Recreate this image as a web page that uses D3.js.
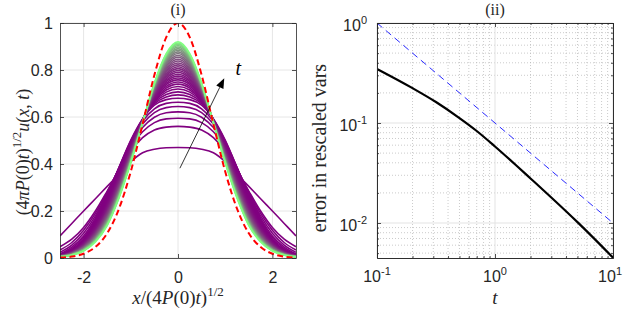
<!DOCTYPE html>
<html>
<head>
<meta charset="utf-8">
<script src="https://cdn.jsdelivr.net/npm/d3@7"></script>
<style>
  body { margin: 0; background: #fff; }
  text { fill: #262626; }
</style>
</head>
<body>
<div id="chart"></div>
<script>
// ---- data ----
// panel (i): half profiles, sampled at xi = 0 .. 2.5 (curves are symmetric)
var xiHalf = [0, 0.25, 0.5, 0.75, 1, 1.25, 1.5, 1.75, 2, 2.25, 2.5];

var profiles = [
  [0.470, 0.469, 0.463, 0.448, 0.410, 0.357, 0.305, 0.252, 0.200, 0.147, 0.094],
  [0.560, 0.557, 0.545, 0.512, 0.455, 0.375, 0.285, 0.200, 0.130, 0.080, 0.048],
  [0.595, 0.592, 0.576, 0.537, 0.470, 0.380, 0.280, 0.190, 0.118, 0.066, 0.034],
  [0.622, 0.618, 0.599, 0.555, 0.481, 0.382, 0.275, 0.179, 0.105, 0.055, 0.024],
  [0.645, 0.640, 0.619, 0.570, 0.490, 0.384, 0.270, 0.170, 0.094, 0.046, 0.018],
  [0.663, 0.658, 0.635, 0.582, 0.497, 0.385, 0.266, 0.162, 0.086, 0.040, 0.015],
  [0.680, 0.674, 0.650, 0.592, 0.502, 0.385, 0.262, 0.155, 0.079, 0.034, 0.012],
  [0.694, 0.685, 0.656, 0.591, 0.496, 0.378, 0.255, 0.150, 0.076, 0.033, 0.012],
  [0.707, 0.696, 0.661, 0.590, 0.491, 0.370, 0.248, 0.145, 0.074, 0.032, 0.011],
  [0.719, 0.706, 0.665, 0.589, 0.486, 0.364, 0.242, 0.141, 0.071, 0.030, 0.011],
  [0.730, 0.715, 0.670, 0.589, 0.482, 0.358, 0.236, 0.137, 0.069, 0.029, 0.011],
  [0.740, 0.723, 0.674, 0.588, 0.478, 0.353, 0.231, 0.133, 0.067, 0.029, 0.010],
  [0.749, 0.730, 0.677, 0.587, 0.474, 0.348, 0.226, 0.130, 0.065, 0.028, 0.010],
  [0.758, 0.738, 0.681, 0.587, 0.471, 0.343, 0.222, 0.127, 0.063, 0.027, 0.010],
  [0.766, 0.744, 0.684, 0.586, 0.467, 0.339, 0.218, 0.124, 0.062, 0.026, 0.010],
  [0.774, 0.751, 0.687, 0.585, 0.464, 0.334, 0.213, 0.121, 0.060, 0.025, 0.009],
  [0.782, 0.757, 0.690, 0.585, 0.461, 0.330, 0.209, 0.118, 0.058, 0.025, 0.009],
  [0.790, 0.764, 0.694, 0.584, 0.458, 0.326, 0.205, 0.115, 0.057, 0.024, 0.009],
  [0.798, 0.770, 0.697, 0.584, 0.454, 0.321, 0.201, 0.112, 0.055, 0.023, 0.009],
  [0.806, 0.777, 0.700, 0.583, 0.451, 0.317, 0.197, 0.109, 0.053, 0.022, 0.008],
  [0.814, 0.783, 0.703, 0.583, 0.448, 0.313, 0.193, 0.107, 0.052, 0.022, 0.008],
  [0.822, 0.790, 0.706, 0.582, 0.445, 0.308, 0.189, 0.104, 0.050, 0.021, 0.008],
  [0.830, 0.797, 0.709, 0.581, 0.441, 0.304, 0.185, 0.101, 0.048, 0.020, 0.008],
  [0.838, 0.803, 0.713, 0.581, 0.438, 0.300, 0.180, 0.098, 0.047, 0.020, 0.007],
  [0.846, 0.810, 0.716, 0.580, 0.435, 0.295, 0.176, 0.095, 0.045, 0.019, 0.007],
  [0.854, 0.816, 0.719, 0.580, 0.432, 0.291, 0.172, 0.092, 0.044, 0.018, 0.007],
  [0.862, 0.823, 0.722, 0.579, 0.429, 0.287, 0.168, 0.089, 0.042, 0.017, 0.007],
  [0.870, 0.829, 0.725, 0.579, 0.425, 0.282, 0.164, 0.086, 0.040, 0.017, 0.006],
  [0.877, 0.835, 0.728, 0.578, 0.422, 0.278, 0.160, 0.084, 0.039, 0.016, 0.006],
  [0.884, 0.841, 0.731, 0.578, 0.420, 0.275, 0.157, 0.081, 0.037, 0.015, 0.006],
  [0.891, 0.846, 0.734, 0.577, 0.417, 0.271, 0.153, 0.079, 0.036, 0.015, 0.006],
  [0.898, 0.852, 0.736, 0.577, 0.414, 0.267, 0.149, 0.076, 0.035, 0.014, 0.006],
  [0.904, 0.857, 0.739, 0.576, 0.412, 0.264, 0.146, 0.074, 0.033, 0.014, 0.006],
  [0.910, 0.862, 0.741, 0.576, 0.409, 0.261, 0.143, 0.072, 0.032, 0.013, 0.005],
  [0.915, 0.866, 0.743, 0.575, 0.407, 0.258, 0.141, 0.070, 0.031, 0.013, 0.005],
  [0.920, 0.870, 0.745, 0.575, 0.405, 0.255, 0.138, 0.068, 0.030, 0.012, 0.005]
];

// red dashed limit profile
var limitProfile = [1.000, 0.939, 0.779, 0.570, 0.368, 0.210, 0.105, 0.047, 0.018, 0.006, 0.002];

// arrow "t" (data coords of panel i)
var arrowFrom = [0.04, 0.382], arrowTo = [0.98, 0.765], arrowLabel = [1.22, 0.78];

var xTicks1 = [-2, 0, 2];
var yTicks1 = [0, 0.2, 0.4, 0.6, 0.8, 1];

// panel (ii)
var tVals   = [0.1, 0.2, 0.316, 0.5, 0.7, 1, 1.5, 2, 3, 5, 7, 10];
var errVals = [0.347, 0.223, 0.162, 0.112, 0.0832, 0.0582, 0.038, 0.0279, 0.018, 0.0102, 0.0069, 0.0045];
var refT   = [0.1, 10];
var refErr = [1, 0.01];
var xTicks2 = [-1, 0, 1];   // exponents
var yTicks2 = [-2, -1, 0];

// ---- drawing ----
var W = 623, H = 311;
var axisColor = "#262626";
var svg = d3.select("#chart").append("svg")
    .attr("width", W)
    .attr("height", H);

function styleAxis(g) {
  g.selectAll("path.domain").attr("stroke", axisColor).attr("stroke-width", 0.8);
  g.selectAll(".tick line").attr("stroke", axisColor).attr("stroke-width", 0.8);
  g.selectAll(".tick text").attr("font-family", "Liberation Sans, Arial, sans-serif")
    .attr("font-size", 16).attr("fill", axisColor);
}

// ===== panel (i) =====
var x1 = d3.scaleLinear().domain([-2.5, 2.5]).range([60, 296]);
var y1 = d3.scaleLinear().domain([0, 1]).range([258, 23]);

var p1 = svg.append("g");

p1.append("clipPath").attr("id", "clip1")
  .append("rect").attr("x", 60).attr("y", 23).attr("width", 236).attr("height", 235);

// grid
p1.selectAll(".vg").data(xTicks1).enter().append("line")
  .attr("x1", d => x1(d)).attr("x2", d => x1(d))
  .attr("y1", y1(0)).attr("y2", y1(1))
  .attr("stroke", "#e6e6e6").attr("stroke-width", 1);
p1.selectAll(".hg").data(yTicks1).enter().append("line")
  .attr("x1", x1(-2.5)).attr("x2", x1(2.5))
  .attr("y1", d => y1(d)).attr("y2", d => y1(d))
  .attr("stroke", "#e6e6e6").attr("stroke-width", 1);

function fullProfile(vals) {
  var pts = [];
  for (var i = xiHalf.length - 1; i > 0; i--) pts.push([-xiHalf[i], vals[i]]);
  for (var j = 0; j < xiHalf.length; j++) pts.push([xiHalf[j], vals[j]]);
  return pts;
}

var line1 = d3.line()
  .x(d => x1(d[0]))
  .y(d => y1(d[1]))
  .curve(d3.curveMonotoneX);

var colorOf = d3.interpolateRgb("rgb(128,0,128)", "rgb(128,255,128)");
var N = profiles.length;

var curves = p1.append("g").attr("clip-path", "url(#clip1)");
curves.selectAll("path.prof").data(profiles).enter().append("path")
  .attr("class", "prof")
  .attr("d", d => line1(fullProfile(d)))
  .attr("fill", "none")
  .attr("stroke", (d, i) => colorOf(Math.pow(i / (N - 1), 3)))
  .attr("stroke-width", 1.6);

curves.append("path")
  .attr("d", line1(fullProfile(limitProfile)))
  .attr("fill", "none")
  .attr("stroke", "#ff0000")
  .attr("stroke-width", 2)
  .attr("stroke-dasharray", "6,3.5");

// arrow
var ax0 = x1(arrowFrom[0]), ay0 = y1(arrowFrom[1]);
var ax1 = x1(arrowTo[0]), ay1 = y1(arrowTo[1]);
var ang = Math.atan2(ay1 - ay0, ax1 - ax0);
var hl = 10, hw = 4;
var bx = ax1 - hl * Math.cos(ang), by = ay1 - hl * Math.sin(ang);
p1.append("line")
  .attr("x1", ax0).attr("y1", ay0).attr("x2", bx).attr("y2", by)
  .attr("stroke", "#000").attr("stroke-width", 0.8);
p1.append("path")
  .attr("d", "M" + ax1 + "," + ay1 +
    "L" + (bx + hw * Math.sin(ang)) + "," + (by - hw * Math.cos(ang)) +
    "L" + (bx - hw * Math.sin(ang)) + "," + (by + hw * Math.cos(ang)) + "Z")
  .attr("fill", "#000");
p1.append("text")
  .attr("x", x1(arrowLabel[0])).attr("y", y1(arrowLabel[1]))
  .attr("font-family", "Liberation Serif, serif").attr("font-style", "italic")
  .attr("font-size", 20).style("fill", "#000")
  .text("t");

// axes (ticks inside)
var gxb = p1.append("g").attr("transform", "translate(0,258)")
  .call(d3.axisBottom(x1).tickValues(xTicks1).tickSize(-4).tickSizeOuter(0).tickPadding(14)
    .tickFormat(d => d < 0 ? "-" + Math.abs(d) : d));
styleAxis(gxb);
var gxt = p1.append("g").attr("transform", "translate(0,23)")
  .call(d3.axisTop(x1).tickValues(xTicks1).tickSize(-4).tickSizeOuter(0).tickFormat(""));
styleAxis(gxt);
var gyl = p1.append("g").attr("transform", "translate(60,0)")
  .call(d3.axisLeft(y1).tickValues(yTicks1).tickSize(-4).tickSizeOuter(0).tickPadding(7)
    .tickFormat(d => d));
styleAxis(gyl);
var gyr = p1.append("g").attr("transform", "translate(296,0)")
  .call(d3.axisRight(y1).tickValues(yTicks1).tickSize(-4).tickSizeOuter(0).tickFormat(""));
styleAxis(gyr);

// title and labels
p1.append("text").attr("x", 178).attr("y", 15).attr("text-anchor", "middle")
  .attr("font-family", "Liberation Serif, serif").attr("font-size", 16).text("(i)");

var xl = p1.append("text").attr("x", 178).attr("y", 304).attr("text-anchor", "middle")
  .attr("font-family", "Liberation Serif, serif").attr("font-size", 19);
xl.append("tspan").attr("font-style", "italic").text("x");
xl.append("tspan").text("/(4");
xl.append("tspan").attr("font-style", "italic").text("P");
xl.append("tspan").text("(0)");
xl.append("tspan").attr("font-style", "italic").text("t");
xl.append("tspan").text(")");
xl.append("tspan").attr("font-size", 13).attr("dy", -8).text("1/2");

var yl = p1.append("text")
  .attr("transform", "translate(29,152) rotate(-90)")
  .attr("text-anchor", "middle")
  .attr("font-family", "Liberation Serif, serif").attr("font-size", 18);
yl.append("tspan").text("(4");
yl.append("tspan").attr("font-style", "italic").text("πP");
yl.append("tspan").text("(0)");
yl.append("tspan").attr("font-style", "italic").text("t");
yl.append("tspan").text(")");
yl.append("tspan").attr("font-size", 13).attr("dy", -8).text("1/2");
yl.append("tspan").attr("font-style", "italic").attr("dy", 8).text("u");
yl.append("tspan").text("(");
yl.append("tspan").attr("font-style", "italic").text("x");
yl.append("tspan").text(", ");
yl.append("tspan").attr("font-style", "italic").text("t");
yl.append("tspan").text(")");

// ===== panel (ii) =====
var x2 = d3.scaleLog().domain([0.1, 10]).range([377, 613]);
var y2 = d3.scaleLog().domain([Math.pow(10, -2.35), 1]).range([258, 23]);

var p2 = svg.append("g");
p2.append("clipPath").attr("id", "clip2")
  .append("rect").attr("x", 377).attr("y", 23).attr("width", 236).attr("height", 235);

var minorX = x2.ticks().filter(d => Math.abs(Math.log10(d) - Math.round(Math.log10(d))) > 1e-6);
var minorY = y2.ticks().filter(d => Math.abs(Math.log10(d) - Math.round(Math.log10(d))) > 1e-6);
var majorX = xTicks2.map(e => Math.pow(10, e));
var majorY = yTicks2.map(e => Math.pow(10, e));

p2.selectAll(".mvx").data(minorX).enter().append("line")
  .attr("x1", d => x2(d)).attr("x2", d => x2(d)).attr("y1", 23).attr("y2", 258)
  .attr("stroke", "#b5b5b5").attr("stroke-width", 0.7).attr("stroke-dasharray", "1,2");
p2.selectAll(".mvy").data(minorY).enter().append("line")
  .attr("x1", 377).attr("x2", 613).attr("y1", d => y2(d)).attr("y2", d => y2(d))
  .attr("stroke", "#b5b5b5").attr("stroke-width", 0.7).attr("stroke-dasharray", "1,2");
p2.selectAll(".gx").data(majorX).enter().append("line")
  .attr("x1", d => x2(d)).attr("x2", d => x2(d)).attr("y1", 23).attr("y2", 258)
  .attr("stroke", "#e3e3e3").attr("stroke-width", 1);
p2.selectAll(".gy").data(majorY).enter().append("line")
  .attr("x1", 377).attr("x2", 613).attr("y1", d => y2(d)).attr("y2", d => y2(d))
  .attr("stroke", "#e3e3e3").attr("stroke-width", 1);

var lines2 = p2.append("g").attr("clip-path", "url(#clip2)");
lines2.append("path")
  .datum(refT.map((t, i) => [t, refErr[i]]))
  .attr("d", d3.line().x(d => x2(d[0])).y(d => y2(d[1])))
  .attr("fill", "none").attr("stroke", "#2a2aff").attr("stroke-width", 1)
  .attr("stroke-dasharray", "7,4.5");
lines2.append("path")
  .datum(tVals.map((t, i) => [t, errVals[i]]))
  .attr("d", d3.line().x(d => x2(d[0])).y(d => y2(d[1])).curve(d3.curveMonotoneX))
  .attr("fill", "none").attr("stroke", "#000").attr("stroke-width", 2.2);

// axes frame + ticks
[["b", 258], ["t", 23]].forEach(function (s) {
  var mk = s[0] === "b" ? d3.axisBottom : d3.axisTop;
  var g = p2.append("g").attr("transform", "translate(0," + s[1] + ")")
    .call(mk(x2).tickValues(majorX).tickSize(-4).tickSizeOuter(0).tickFormat(""));
  styleAxis(g);
  var gm = p2.append("g").attr("transform", "translate(0," + s[1] + ")")
    .call(mk(x2).tickValues(minorX).tickSize(-2).tickSizeOuter(0).tickFormat(""));
  styleAxis(gm);
});
[["l", 377], ["r", 613]].forEach(function (s) {
  var mk = s[0] === "l" ? d3.axisLeft : d3.axisRight;
  var g = p2.append("g").attr("transform", "translate(" + s[1] + ",0)")
    .call(mk(y2).tickValues(majorY).tickSize(-4).tickSizeOuter(0).tickFormat(""));
  styleAxis(g);
  var gm = p2.append("g").attr("transform", "translate(" + s[1] + ",0)")
    .call(mk(y2).tickValues(minorY).tickSize(-2).tickSizeOuter(0).tickFormat(""));
  styleAxis(gm);
});

// power-of-ten tick labels
function powLabel(sel, e) {
  sel.attr("font-family", "Liberation Sans, Arial, sans-serif").attr("font-size", 16)
    .style("fill", axisColor);
  sel.append("tspan").text("10");
  sel.append("tspan").attr("font-size", 11).attr("dy", -7).text(e < 0 ? "-" + Math.abs(e) : e);
}
xTicks2.forEach(function (e, i) {
  var last = i === xTicks2.length - 1;
  var t = p2.append("text")
    .attr("x", last ? W - 1 : x2(Math.pow(10, e)))
    .attr("y", 282)
    .attr("text-anchor", last ? "end" : "middle");
  powLabel(t, e);
});
yTicks2.forEach(function (e) {
  var t = p2.append("text").attr("x", 367).attr("y", y2(Math.pow(10, e)) + 8)
    .attr("text-anchor", "end");
  powLabel(t, e);
});

p2.append("text").attr("x", 495).attr("y", 15).attr("text-anchor", "middle")
  .attr("font-family", "Liberation Serif, serif").attr("font-size", 16).text("(ii)");
p2.append("text").attr("x", 495).attr("y", 304).attr("text-anchor", "middle")
  .attr("font-family", "Liberation Serif, serif").attr("font-style", "italic")
  .attr("font-size", 19).text("t");
p2.append("text")
  .attr("transform", "translate(326,148) rotate(-90)")
  .attr("text-anchor", "middle")
  .attr("font-family", "Liberation Serif, serif").attr("font-size", 20)
  .text("error in rescaled vars");
</script>
</body>
</html>
